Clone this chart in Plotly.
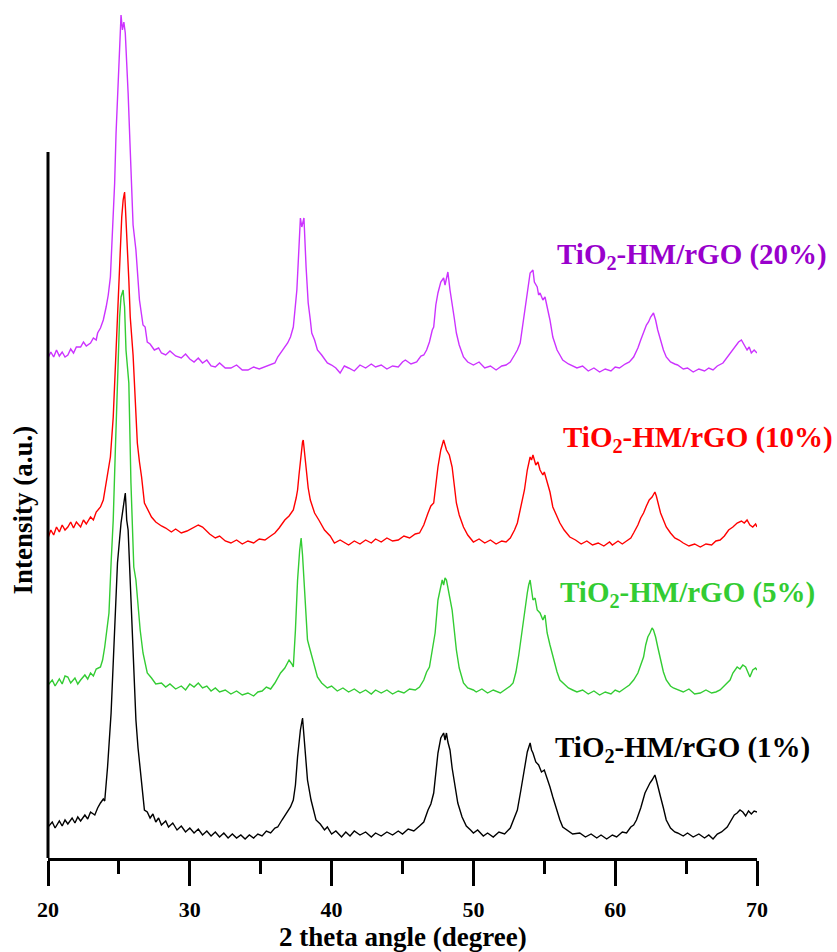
import plotly.graph_objects as go

# XRD patterns of TiO2-HM/rGO composites, stacked (a.u.)
x_1 = [20.0, 20.3, 20.5, 20.8, 21.0, 21.2, 21.4, 21.7, 21.9, 22.1, 22.3, 22.6, 22.8, 23.0, 23.3, 23.5, 23.7, 23.9, 24.0, 24.2,
       24.45, 24.7, 24.9, 25.15, 25.3, 25.35, 25.45, 25.5, 25.55, 25.65, 25.75, 25.9, 26.0, 26.2, 26.35, 26.5, 26.65, 26.8, 27.0, 27.2,
       27.4, 27.6, 27.8, 28.0, 28.3, 28.5, 28.8, 29.1, 29.4, 29.7, 30.0, 30.3, 30.6, 30.9, 31.2, 31.5, 31.8, 32.1, 32.4, 32.7,
       33.0, 33.3, 33.6, 33.9, 34.2, 34.5, 34.8, 35.1, 35.4, 35.7, 36.0, 36.2, 36.5, 36.8, 37.1, 37.3, 37.45, 37.6, 37.8, 37.95,
       38.1, 38.3, 38.55, 38.75, 38.9, 39.2, 39.5, 39.7, 40.0, 40.3, 40.7, 41.0, 41.3, 41.6, 42.0, 42.4, 42.8, 43.1, 43.5, 43.9,
       44.3, 44.7, 45.0, 45.4, 45.8, 46.2, 46.5, 46.8, 47.0, 47.2, 47.35, 47.5, 47.7, 47.9, 48.0, 48.1, 48.2, 48.35, 48.5, 48.7,
       48.9, 49.2, 49.5, 49.8, 50.0, 50.3, 50.7, 51.0, 51.4, 51.8, 52.2, 52.6, 52.9, 53.1, 53.35, 53.6, 53.8, 54.0, 54.1, 54.2,
       54.4, 54.6, 54.8, 55.0, 55.2, 55.4, 55.6, 55.9, 56.1, 56.3, 56.6, 57.0, 57.5, 57.9, 58.3, 58.7, 59.0, 59.4, 59.8, 60.1,
       60.5, 60.8, 61.1, 61.3, 61.5, 61.8, 62.1, 62.3, 62.45, 62.6, 62.8, 62.9, 63.0, 63.2, 63.4, 63.6, 63.9, 64.2, 64.4, 64.8,
       65.1, 65.5, 65.9, 66.3, 66.6, 66.9, 67.2, 67.5, 67.9, 68.2, 68.4, 68.6, 68.8, 69.0, 69.2, 69.4, 69.6, 69.8, 70.0]
y_1 = [31, 36, 30, 37, 32, 38, 34, 40, 35, 41, 37, 43, 39, 46, 43, 50, 55, 59, 57, 91,
       145, 228, 295, 335, 350, 355, 365, 353, 338, 328, 295, 248, 211, 138, 110, 88, 65, 48, 46, 40,
       44, 36, 40, 33, 37, 31, 35, 28, 32, 26, 30, 25, 29, 23, 27, 22, 26, 21, 25, 20,
       24, 20, 23, 19, 23, 20, 24, 22, 27, 25, 30, 31, 38, 45, 51, 58, 73, 101, 128, 140,
       111, 78, 58, 46, 38, 34, 28, 31, 24, 27, 21, 26, 22, 27, 23, 26, 21, 25, 22, 26,
       23, 27, 24, 29, 27, 32, 36, 48, 54, 65, 83, 105, 120, 125, 118, 125, 116, 108, 90, 71,
       55, 41, 32, 28, 25, 28, 22, 25, 21, 26, 24, 30, 40, 48, 68, 91, 106, 115, 108, 105,
       96, 93, 86, 88, 80, 71, 61, 46, 38, 31, 28, 24, 25, 21, 24, 20, 23, 19, 23, 21,
       26, 25, 31, 33, 38, 50, 65, 71, 75, 78, 83, 78, 73, 61, 50, 38, 30, 26, 25, 22,
       25, 21, 24, 20, 23, 19, 24, 26, 31, 38, 43, 45, 48, 46, 42, 47, 44, 47, 46]

x_5 = [20.0, 20.3, 20.5, 20.8, 21.0, 21.2, 21.4, 21.6, 21.9, 22.1, 22.3, 22.6, 22.8, 23.0, 23.2, 23.4, 23.7, 23.85, 24.0, 24.15,
       24.3, 24.45, 24.6, 24.75, 24.9, 25.05, 25.15, 25.25, 25.3, 25.35, 25.4, 25.5, 25.6, 25.7, 25.85, 26.05, 26.2, 26.35, 26.5, 26.7,
       26.85, 27.0, 27.3, 27.6, 28.0, 28.3, 28.6, 29.0, 29.4, 29.7, 30.0, 30.3, 30.6, 30.9, 31.2, 31.5, 31.8, 32.1, 32.5, 32.9,
       33.3, 33.7, 34.1, 34.5, 34.8, 35.1, 35.4, 35.7, 36.0, 36.2, 36.4, 36.7, 37.0, 37.2, 37.3, 37.45, 37.6, 37.75, 37.85, 37.95,
       38.05, 38.2, 38.3, 38.45, 38.55, 38.8, 39.0, 39.3, 39.7, 40.0, 40.4, 40.8, 41.2, 41.6, 42.0, 42.4, 42.8, 43.1, 43.5, 43.9,
       44.3, 44.7, 45.1, 45.5, 45.9, 46.2, 46.5, 46.7, 46.9, 47.1, 47.3, 47.5, 47.65, 47.8, 47.9, 48.0, 48.1, 48.25, 48.35, 48.5,
       48.65, 48.8, 49.0, 49.3, 49.6, 50.0, 50.2, 50.6, 51.0, 51.4, 51.9, 52.3, 52.6, 52.8, 53.0, 53.2, 53.4, 53.6, 53.8, 53.9,
       54.0, 54.1, 54.2, 54.35, 54.5, 54.7, 54.9, 55.05, 55.2, 55.4, 55.6, 55.9, 56.1, 56.3, 56.7, 57.0, 57.3, 57.7, 58.1, 58.5,
       58.9, 59.3, 59.7, 60.0, 60.3, 60.7, 61.0, 61.3, 61.6, 61.8, 62.0, 62.15, 62.3, 62.45, 62.6, 62.7, 62.85, 63.0, 63.2, 63.4,
       63.6, 63.9, 64.1, 64.4, 64.8, 65.2, 65.6, 66.0, 66.4, 66.8, 67.1, 67.4, 67.7, 67.9, 68.1, 68.3, 68.6, 68.8, 69.0, 69.2,
       69.5, 69.7, 69.9, 70.0]
y_5 = [173, 178, 172, 179, 174, 182, 181, 175, 180, 174, 178, 183, 179, 185, 182, 189, 191, 198, 211, 228,
       245, 295, 338, 408, 475, 541, 561, 566, 568, 558, 551, 508, 490, 475, 375, 291, 278, 248, 228, 205,
       193, 185, 180, 174, 175, 171, 174, 169, 172, 168, 174, 171, 175, 170, 172, 167, 170, 166, 168, 164,
       167, 163, 165, 162, 166, 167, 171, 169, 175, 180, 185, 190, 198, 194, 191, 228, 278, 308, 320, 303,
       281, 246, 218, 210, 205, 190, 181, 175, 170, 172, 167, 170, 166, 169, 165, 168, 164, 168, 165, 168,
       164, 167, 165, 169, 168, 171, 178, 186, 191, 208, 225, 258, 270, 278, 273, 280, 278, 266, 260, 248,
       228, 208, 190, 175, 170, 168, 166, 169, 165, 168, 165, 169, 172, 175, 186, 203, 225, 248, 265, 273,
       278, 268, 258, 260, 248, 245, 238, 243, 225, 213, 201, 186, 178, 175, 170, 168, 166, 168, 164, 167,
       163, 166, 164, 168, 166, 170, 173, 178, 185, 193, 201, 213, 221, 225, 230, 228, 221, 211, 198, 186,
       178, 172, 170, 168, 166, 169, 164, 165, 168, 165, 166, 168, 172, 175, 178, 185, 191, 189, 193, 191,
       181, 188, 190, 188]

x_10 = [20.0, 20.2, 20.4, 20.6, 20.8, 21.0, 21.2, 21.4, 21.6, 21.8, 22.0, 22.3, 22.5, 22.7, 23.0, 23.2, 23.4, 23.7, 23.9, 24.1,
        24.25, 24.4, 24.6, 24.8, 24.95, 25.05, 25.2, 25.3, 25.4, 25.45, 25.5, 25.6, 25.7, 25.8, 26.0, 26.1, 26.3, 26.45, 26.6, 26.8,
        27.0, 27.3, 27.6, 28.0, 28.3, 28.7, 29.0, 29.4, 29.8, 30.2, 30.6, 30.9, 31.1, 31.4, 31.8, 32.1, 32.5, 32.9, 33.3, 33.7,
        34.1, 34.5, 34.9, 35.3, 35.7, 36.0, 36.3, 36.7, 37.0, 37.3, 37.5, 37.6, 37.7, 37.8, 37.95, 38.0, 38.1, 38.2, 38.35, 38.5,
        38.7, 38.8, 39.1, 39.5, 39.9, 40.2, 40.6, 41.2, 41.6, 42.0, 42.4, 42.8, 43.1, 43.5, 43.9, 44.3, 44.7, 45.1, 45.5, 45.9,
        46.2, 46.5, 46.8, 47.0, 47.2, 47.35, 47.5, 47.7, 47.9, 48.0, 48.1, 48.3, 48.5, 48.65, 48.8, 49.0, 49.3, 49.6, 50.0, 50.4,
        50.8, 51.2, 51.6, 52.0, 52.3, 52.6, 52.9, 53.1, 53.35, 53.6, 53.8, 54.0, 54.1, 54.2, 54.4, 54.55, 54.7, 54.9, 55.0, 55.2,
        55.4, 55.6, 55.85, 56.1, 56.4, 56.8, 57.2, 57.6, 58.0, 58.4, 58.8, 59.2, 59.6, 59.8, 60.2, 60.5, 60.8, 61.1, 61.3, 61.6,
        61.8, 62.0, 62.2, 62.4, 62.6, 62.8, 62.9, 63.0, 63.2, 63.4, 63.6, 63.9, 64.2, 64.5, 64.8, 65.2, 65.6, 66.0, 66.4, 66.8,
        67.1, 67.4, 67.7, 68.0, 68.3, 68.6, 68.9, 69.1, 69.3, 69.5, 69.7, 69.9, 70.0]
y_10 = [320, 328, 323, 331, 326, 333, 328, 331, 336, 330, 336, 331, 338, 334, 341, 338, 346, 351, 358, 375,
        388, 401, 441, 508, 568, 608, 641, 658, 666, 653, 641, 608, 578, 541, 503, 475, 415, 396, 381, 355,
        350, 341, 336, 332, 330, 326, 329, 325, 327, 330, 333, 331, 328, 324, 320, 322, 317, 315, 318, 314,
        317, 315, 319, 318, 322, 325, 330, 338, 342, 348, 360, 368, 383, 398, 416, 418, 403, 388, 370, 358,
        348, 345, 338, 328, 322, 315, 318, 313, 317, 314, 318, 315, 319, 316, 320, 317, 318, 322, 320, 324,
        325, 333, 345, 352, 355, 373, 391, 408, 418, 413, 408, 403, 391, 373, 355, 343, 331, 323, 316, 319,
        315, 318, 314, 317, 316, 320, 328, 335, 353, 368, 388, 401, 398, 403, 393, 396, 388, 383, 386, 375,
        366, 351, 343, 335, 328, 321, 318, 314, 317, 313, 315, 312, 316, 313, 317, 314, 317, 320, 325, 333,
        340, 345, 352, 358, 361, 366, 362, 356, 345, 338, 331, 325, 320, 318, 315, 312, 314, 311, 314, 313,
        317, 318, 322, 328, 331, 335, 337, 335, 338, 333, 331, 334, 331]

x_20 = [20.0, 20.2, 20.4, 20.6, 20.8, 21.0, 21.2, 21.4, 21.6, 21.8, 22.0, 22.3, 22.5, 22.7, 23.0, 23.2, 23.4, 23.5, 23.7, 23.9,
        24.1, 24.25, 24.4, 24.5, 24.6, 24.7, 24.8, 24.9, 25.05, 25.15, 25.25, 25.35, 25.45, 25.55, 25.65, 25.8, 25.9, 26.0, 26.2, 26.45,
        26.7, 26.85, 27.0, 27.2, 27.5, 27.8, 28.0, 28.3, 28.6, 29.0, 29.4, 29.7, 30.0, 30.3, 30.6, 30.9, 31.2, 31.5, 31.8, 32.1,
        32.5, 32.9, 33.3, 33.7, 34.1, 34.5, 34.9, 35.3, 35.7, 36.0, 36.2, 36.4, 36.7, 36.9, 37.1, 37.3, 37.45, 37.55, 37.7, 37.8,
        37.9, 38.05, 38.2, 38.35, 38.5, 38.6, 38.8, 39.0, 39.3, 39.7, 40.0, 40.3, 40.6, 40.9, 41.2, 41.6, 42.0, 42.4, 42.8, 43.1,
        43.5, 43.9, 44.3, 44.7, 45.0, 45.2, 45.6, 46.0, 46.3, 46.5, 46.7, 46.9, 47.1, 47.2, 47.35, 47.5, 47.7, 47.9, 48.0, 48.2,
        48.35, 48.5, 48.65, 48.8, 49.0, 49.3, 49.6, 50.0, 50.4, 50.8, 51.2, 51.6, 52.0, 52.3, 52.6, 52.9, 53.1, 53.3, 53.45, 53.6,
        53.8, 54.0, 54.2, 54.3, 54.5, 54.6, 54.7, 54.9, 55.05, 55.2, 55.4, 55.6, 55.9, 56.1, 56.3, 56.7, 57.0, 57.3, 57.7, 58.1,
        58.5, 58.9, 59.3, 59.7, 60.0, 60.3, 60.7, 61.0, 61.3, 61.6, 61.8, 62.0, 62.2, 62.35, 62.5, 62.7, 62.85, 63.0, 63.2, 63.4,
        63.6, 63.9, 64.2, 64.4, 64.8, 65.1, 65.5, 65.9, 66.3, 66.6, 66.9, 67.2, 67.6, 67.9, 68.1, 68.3, 68.5, 68.7, 68.9, 69.1,
        69.3, 69.45, 69.6, 69.8, 70.0]
y_20 = [500, 506, 501, 508, 502, 506, 501, 503, 509, 505, 511, 511, 516, 512, 515, 520, 518, 525, 530, 538,
        551, 563, 581, 608, 643, 675, 725, 763, 818, 843, 828, 836, 825, 800, 765, 708, 661, 633, 608, 558,
        533, 531, 516, 514, 508, 510, 505, 503, 507, 502, 500, 504, 499, 496, 500, 495, 498, 492, 491, 495,
        490, 490, 493, 488, 488, 491, 489, 491, 493, 495, 501, 505, 510, 515, 521, 531, 553, 568, 611, 640,
        631, 640, 591, 555, 538, 525, 518, 508, 503, 495, 493, 490, 485, 492, 490, 487, 493, 490, 494, 491,
        493, 489, 492, 491, 496, 498, 494, 496, 502, 503, 508, 516, 528, 531, 553, 565, 576, 580, 573, 586,
        568, 551, 540, 525, 513, 501, 496, 493, 496, 490, 492, 488, 492, 493, 496, 503, 508, 515, 531, 548,
        568, 585, 588, 576, 571, 563, 565, 558, 561, 551, 538, 521, 508, 503, 498, 494, 492, 490, 492, 487,
        490, 486, 489, 487, 491, 490, 494, 496, 501, 510, 518, 525, 533, 536, 541, 545, 538, 528, 518, 508,
        501, 496, 494, 493, 489, 490, 486, 489, 487, 490, 488, 492, 495, 501, 504, 508, 513, 516, 518, 513,
        508, 511, 505, 508, 505]

series = [
    ("TiO<sub>2</sub>-HM/rGO (1%)", x_1, y_1, "#000000", "#000000", 55.6, 109),
    ("TiO<sub>2</sub>-HM/rGO (5%)", x_5, y_5, "#33CC33", "#33CC33", 55.95, 264),
    ("TiO<sub>2</sub>-HM/rGO (10%)", x_10, y_10, "#FF0000", "#FF0000", 56.2, 419),
    ("TiO<sub>2</sub>-HM/rGO (20%)", x_20, y_20, "#CC33FF", "#9900CC", 55.75, 602),
]

FONT = "Liberation Serif"
Y_TOP = 848          # top of the drawing area in a.u.
SPINE_TOP = 706      # left spine stops below the tallest reflection

fig = go.Figure()
for name, xs, ys, line_color, text_color, lx, ly in series:
    fig.add_trace(go.Scatter(x=xs, y=ys, mode="lines", name=name,
                             line=dict(color=line_color, width=1.4),
                             showlegend=False))
    fig.add_annotation(x=lx, y=ly, xref="x", yref="y", text=name,
                       showarrow=False, xanchor="left", yanchor="middle",
                       font=dict(family=FONT, size=29, color=text_color, weight="bold"))

fig.add_shape(type="line", xref="paper", yref="y", x0=0, x1=0, y0=0, y1=SPINE_TOP,
              line=dict(color="black", width=3))

fig.add_annotation(x=0.5, y=-0.093, xref="paper", yref="paper",
                   text="2 theta angle (degree)", showarrow=False,
                   xanchor="center", yanchor="middle",
                   font=dict(family=FONT, size=27, color="black", weight="bold"))
fig.add_annotation(x=-0.035, y=0.41, xref="paper", yref="paper",
                   text="Intensity (a.u.)", showarrow=False, textangle=-90,
                   xanchor="center", yanchor="middle",
                   font=dict(family=FONT, size=27, color="black", weight="bold"))

fig.update_xaxes(range=[20, 70], showline=True, linecolor="black", linewidth=3,
                 ticks="outside", ticklen=25, tickwidth=3, tickcolor="black",
                 tick0=20, dtick=10, showgrid=False, zeroline=False,
                 ticklabelstandoff=5,
                 tickfont=dict(family=FONT, size=22, color="black", weight="bold"),
                 minor=dict(ticks="outside", ticklen=13, tickwidth=3, tickcolor="black",
                            dtick=5, showgrid=False))
fig.update_yaxes(range=[0, Y_TOP], showline=False, showticklabels=False, ticks="",
                 showgrid=False, zeroline=False)

fig.update_layout(width=837, height=952, plot_bgcolor="white", paper_bgcolor="white",
                  margin=dict(l=48, r=80, t=10, b=94))

fig.write_html("out.html")
